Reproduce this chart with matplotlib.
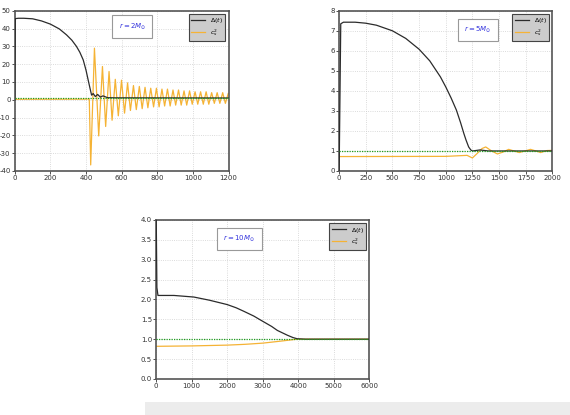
import matplotlib
matplotlib.use('Agg')
import matplotlib.pyplot as plt
from matplotlib.patches import Rectangle

plt.rcParams['axes.unicode_minus'] = False

# ---- panel 1: r = 2 M_sun ----
t_delta_1 = [0, 3, 20, 50, 100, 150, 200, 250, 290, 320, 346, 365, 384, 400, 412, 422, 431,
             440, 452, 465, 480, 495, 520, 560, 1200]
delta_1 = [0, 45.6, 45.8, 45.8, 45.5, 44.3, 42.5, 39.8, 36.5, 33.5, 30.0, 26.7, 22.4, 16.5, 11.0, 6.5, 2.6,
           3.5, 1.8, 3.0, 1.5, 2.2, 1.2, 1.1, 1.0]

cs_peaks_t = [447, 492, 529, 564, 599, 633, 666, 699, 731, 763, 795, 826, 857, 888,
              919, 950, 981, 1012, 1043, 1074, 1105, 1136, 1167, 1198]
cs_peaks_v = [29, 18.7, 15.9, 11.5, 11, 9.5, 8, 7.5, 7, 6.5, 6.5, 6, 6, 5.5,
              5.5, 5, 5, 4.5, 4.5, 4.5, 4, 4, 4, 3.5]
cs_troughs_t = [426, 471, 510, 546, 581, 616, 649, 682, 715, 747, 779, 810, 841, 872,
                903, 934, 965, 996, 1027, 1058, 1089, 1120, 1151, 1182]
cs_troughs_v = [-36.6, -20.3, -15, -11.5, -9, -7.5, -6, -5.5, -5, -4.5, -4, -4, -3.5, -3.5,
                -3, -3, -3, -2.5, -2.5, -2.5, -2.5, -2, -2, -2]
cs_pre_t = [0, 400, 418]
cs_pre_v = [0.3, 0.35, 0.5]

# ---- panel 2: r = 5 M_sun ----
t_delta_2 = [0, 15, 40, 150, 250, 350, 500, 625, 750, 850, 900, 950, 1000, 1050, 1100, 1140,
             1170, 1190, 1215, 1235, 1250, 1280, 1320, 1400, 2000]
delta_2 = [0, 7.35, 7.43, 7.43, 7.38, 7.28, 7.0, 6.62, 6.08, 5.5, 5.1, 4.7, 4.2, 3.65, 3.04, 2.4,
           1.87, 1.55, 1.2, 1.05, 1.0, 1.02, 1.05, 1.0, 1.0]
t_cs_2 = [0, 1000, 1200, 1250, 1300, 1340, 1375, 1430, 1485, 1540, 1590, 1640, 1690,
          1745, 1795, 1845, 1890, 1950, 2000]
cs_2 = [0.72, 0.73, 0.78, 0.65, 0.9, 1.12, 1.2, 1.0, 0.85, 0.95, 1.08, 1.0, 0.92,
        1.0, 1.08, 1.0, 0.92, 1.02, 1.03]

# ---- panel 3: r = 10 M_sun ----
t_delta_3 = [0, 20, 50, 500, 1060, 1500, 2000, 2250, 2470, 2750, 2940, 3250, 3410, 3690, 3850, 3970, 4200, 6000]
delta_3 = [4.2, 2.3, 2.1, 2.1, 2.06, 1.98, 1.87, 1.79, 1.70, 1.58, 1.48, 1.32, 1.22, 1.10, 1.04, 1.01, 1.0, 1.0]
t_cs_3 = [0, 1000, 2000, 2500, 3000, 3500, 3970, 4200, 6000]
cs_3 = [0.82, 0.83, 0.85, 0.87, 0.9, 0.95, 1.0, 1.0, 1.0]

labels = [r'$r = 2M_{\odot}$', r'$r = 5M_{\odot}$', r'$r = 10M_{\odot}$']

# merge the c_s^2 extremes of panel 1 in time order
pts = sorted(zip(cs_peaks_t + cs_troughs_t, cs_peaks_v + cs_troughs_v))
t_cs_1 = cs_pre_t + [p[0] for p in pts]
cs_1 = cs_pre_v + [p[1] for p in pts]

BLACK = '#2b2b2b'
ORANGE = '#f5b335'

fig = plt.figure(figsize=(5.7, 4.15), dpi=100)
fig.patch.set_facecolor('white')

# faint band of the page watermark
fig.patches.append(Rectangle((0.255, 0.0), 0.745, 0.032, transform=fig.transFigure,
                             facecolor='#ececec', edgecolor='none', zorder=-5))

ax1 = fig.add_axes([0.026, 0.588, 0.375, 0.386])
ax2 = fig.add_axes([0.595, 0.588, 0.374, 0.386])
ax3 = fig.add_axes([0.274, 0.087, 0.374, 0.383])

panels = [
    (ax1, t_delta_1, delta_1, t_cs_1, cs_1, (0, 1200), (-40, 50), range(0, 1201, 200), range(-40, 51, 10), (0.55, 0.9)),
    (ax2, t_delta_2, delta_2, t_cs_2, cs_2, (0, 2000), (0, 8), range(0, 2001, 250), range(0, 9), (0.65, 0.88)),
    (ax3, t_delta_3, delta_3, t_cs_3, cs_3, (0, 6000), (0, 4), range(0, 6001, 1000), [i * 0.5 for i in range(9)], (0.39, 0.88)),
]

for (ax, td, d, tc, c, xl, yl, xt, yt, boxpos), lab in zip(panels, labels):
    ax.plot(td, d, color=BLACK, lw=0.9, label=r'$\Delta(t)$', zorder=3)
    ax.plot(tc, c, color=ORANGE, lw=0.9, label=r'$c_s^2$', zorder=2)
    ax.axhline(1.0, color='#1f9e1f', lw=0.9, ls=(0, (1, 1)), zorder=4)
    ax.set_xlim(*xl)
    ax.set_ylim(*yl)
    ax.set_xticks(list(xt))
    ax.set_yticks(list(yt))
    ax.tick_params(labelsize=5, length=2, width=0.6, pad=1, colors='#333333')
    ax.grid(True, color='#cfcfcf', ls=':', lw=0.6)
    for side in ax.spines:
        ax.spines[side].set_color('#555555')
        ax.spines[side].set_linewidth(1.2)
    leg = ax.legend(loc='upper right', fontsize=4.5, frameon=True, fancybox=False,
                    handlelength=2.2, borderpad=0.4, labelspacing=0.3)
    leg.get_frame().set_facecolor('#cccccc')
    leg.get_frame().set_edgecolor('#444444')
    leg.get_frame().set_linewidth(0.8)
    leg.get_frame().set_alpha(1)
    ax.text(boxpos[0], boxpos[1], lab, transform=ax.transAxes, fontsize=5, color='#3333dd',
            ha='center', va='center',
            bbox=dict(boxstyle='square,pad=0.9', facecolor='white', edgecolor='#999999', lw=0.8))

fig.savefig('out.png', dpi=100, facecolor='white')
